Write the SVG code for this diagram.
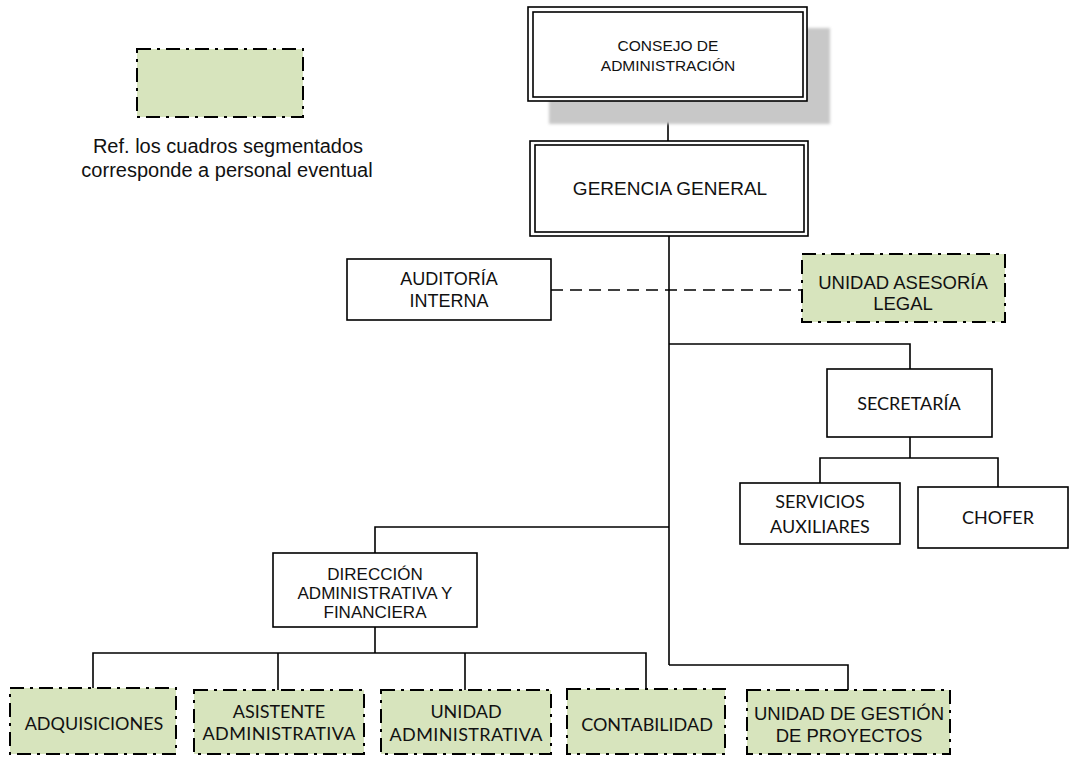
<svg xmlns="http://www.w3.org/2000/svg" width="1069" height="757" viewBox="0 0 1069 757">
<style>
  .box { fill: #ffffff; stroke: #000; stroke-width: 1.6; }
  .dbl { fill: none; stroke: #000; stroke-width: 1.6; }
  .temp { fill: #d7e4bd; stroke: #000; stroke-width: 2; stroke-dasharray: 14 6 3 6; }
  .line { fill: none; stroke: #000; stroke-width: 1.6; }
  .dash { fill: none; stroke: #000; stroke-width: 1.6; stroke-dasharray: 12 7; }
  .a { font-family: "Liberation Sans", Arial, sans-serif; fill: #111; text-anchor: middle; }
  .c { font-family: Lato, "Open Sans", sans-serif; fill: #111; text-anchor: middle; font-size: 18px; }
</style>
<defs>
  <filter id="blur" x="-10%" y="-10%" width="120%" height="120%">
    <feGaussianBlur stdDeviation="1.5"/>
  </filter>
</defs>
<rect width="1069" height="757" fill="#ffffff"/>

<g id="legend">
  <rect class="temp" x="137" y="49" width="166" height="68"/>
  <text class="a" font-size="20" x="228" y="153">Ref. los cuadros segmentados</text>
  <text class="a" font-size="20" x="227" y="177">corresponde a personal eventual</text>
</g>

<g id="connectors">
  <line class="line" x1="668" y1="101" x2="668" y2="141"/>
  <line class="line" x1="669" y1="236" x2="669" y2="665"/>
  <polyline class="line" points="669,344 910,344 910,369"/>
  <line class="line" x1="910" y1="437" x2="910" y2="458"/>
  <polyline class="line" points="820,483 820,458 998,458 998,487"/>
  <polyline class="line" points="669,527 375,527 375,553"/>
  <line class="line" x1="375" y1="627" x2="375" y2="653"/>
  <polyline class="line" points="93,688 93,653 646,653 646,689"/>
  <line class="line" x1="278" y1="653" x2="278" y2="690"/>
  <line class="line" x1="465" y1="653" x2="465" y2="690"/>
  <polyline class="line" points="669,665 848,665 848,690"/>
  <line class="dash" x1="551" y1="290" x2="802" y2="290"/>
</g>

<g id="consejo">
  <rect x="549" y="28" width="281" height="96" fill="#c8c8c8" filter="url(#blur)"/>
  <rect x="528" y="7" width="279" height="94" fill="#ffffff" stroke="#000" stroke-width="1.6"/>
  <rect class="dbl" x="533" y="12" width="270" height="85"/>
  <text class="a" font-size="15.5" x="668" y="51">CONSEJO DE</text>
  <text class="a" font-size="15.5" x="668" y="71">ADMINISTRACIÓN</text>
</g>

<g id="gerencia">
  <rect x="530" y="141" width="278" height="95" fill="#ffffff" stroke="#000" stroke-width="1.6"/>
  <rect class="dbl" x="535" y="145" width="269" height="87"/>
  <text class="a" font-size="19" x="670" y="195">GERENCIA GENERAL</text>
</g>

<g id="auditoria">
  <rect class="box" x="347" y="259" width="204" height="61"/>
  <text class="a" font-size="18" x="449" y="285">AUDITORÍA</text>
  <text class="a" font-size="18" x="449" y="307">INTERNA</text>
</g>

<g id="asesoria">
  <rect class="temp" x="802" y="254" width="203" height="68"/>
  <text class="a" font-size="18.5" x="903" y="289">UNIDAD ASESORÍA</text>
  <text class="a" font-size="18.5" x="903" y="310">LEGAL</text>
</g>

<g id="secretaria">
  <rect class="box" x="827" y="369" width="165" height="68"/>
  <text class="c" x="909" y="410">SECRETARÍA</text>
</g>

<g id="servicios">
  <rect class="box" x="740" y="483" width="160" height="61"/>
  <text class="c" x="820" y="508">SERVICIOS</text>
  <text class="c" x="820" y="533">AUXILIARES</text>
</g>

<g id="chofer">
  <rect class="box" x="918" y="487" width="150" height="61"/>
  <text class="c" x="998" y="524">CHOFER</text>
</g>

<g id="direccion">
  <rect class="box" x="273" y="553" width="204" height="74"/>
  <text class="a" font-size="17" x="375" y="580">DIRECCIÓN</text>
  <text class="a" font-size="17" x="375" y="599">ADMINISTRATIVA Y</text>
  <text class="a" font-size="17" x="375" y="618">FINANCIERA</text>
</g>

<g id="adquisiciones">
  <rect class="temp" x="10" y="688" width="166" height="66"/>
  <text class="c" x="94" y="730">ADQUISICIONES</text>
</g>

<g id="asistente">
  <rect class="temp" x="194" y="690" width="170" height="64"/>
  <text class="c" x="279" y="718">ASISTENTE</text>
  <text class="c" x="279" y="740" textLength="153">ADMINISTRATIVA</text>
</g>

<g id="unidad-administrativa">
  <rect class="temp" x="381" y="690" width="170" height="64"/>
  <text class="c" x="466" y="718">UNIDAD</text>
  <text class="c" x="466" y="741" textLength="153">ADMINISTRATIVA</text>
</g>

<g id="contabilidad">
  <rect class="temp" x="567" y="689" width="158" height="65"/>
  <text class="c" x="647" y="731">CONTABILIDAD</text>
</g>

<g id="gestion">
  <rect class="temp" x="747" y="690" width="203" height="64"/>
  <text class="a" font-size="18.5" x="849" y="720">UNIDAD DE GESTIÓN</text>
  <text class="a" font-size="18.5" x="849" y="742">DE PROYECTOS</text>
</g>
</svg>
